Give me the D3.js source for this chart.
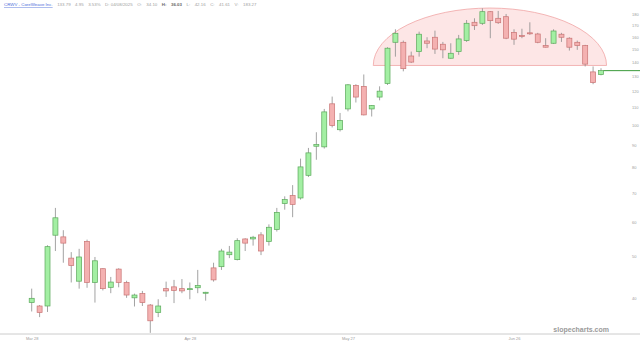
<!DOCTYPE html>
<html>
<head>
<meta charset="utf-8">
<script src="https://cdn.jsdelivr.net/npm/d3@7"></script>
<style>
  body { margin: 0; background: #fff; }
  svg { display: block; font-family: "Liberation Sans", Arial, sans-serif; }
  .axis text { fill: #9c9c9c; }
</style>
</head>
<body>
<div id="chart"></div>
<script>
// trading days shown on the chart
const dates = [
  "Mar 28","Mar 31","Apr 01","Apr 02","Apr 03","Apr 04","Apr 07","Apr 08","Apr 09","Apr 10",
  "Apr 11","Apr 14","Apr 15","Apr 16","Apr 17","Apr 21","Apr 22","Apr 23","Apr 24","Apr 25",
  "Apr 28","Apr 29","Apr 30","May 01","May 02","May 05","May 06","May 07","May 08","May 09",
  "May 12","May 13","May 14","May 15","May 16","May 19","May 20","May 21","May 22","May 23",
  "May 27","May 28","May 29","May 30","Jun 02","Jun 03","Jun 04","Jun 05","Jun 06","Jun 09",
  "Jun 10","Jun 11","Jun 12","Jun 13","Jun 16","Jun 17","Jun 18","Jun 20","Jun 23","Jun 24",
  "Jun 25","Jun 26","Jun 27","Jun 30","Jul 01","Jul 02","Jul 03","Jul 07","Jul 08","Jul 09",
  "Jul 10","Jul 11","Jul 14"
];
const open = [
  39.1,38.4,38.4,55.9,55.4,49.5,43.8,54.1,43.5,46.8,
  42.4,46.7,43.5,40.1,41.0,38.6,37.1,42.1,42.5,42.1,
  42.0,42.3,41.1,47.0,47.3,50.4,49.1,54.8,54.8,56.0,
  54.1,57.6,66.1,69.0,68.1,76.8,89.6,89.3,112.2,97.8,
  109.2,123.7,123.1,109.2,116.3,125.0,155.5,155.5,144.6,148.0,
  156.6,159.7,153.9,142.9,148.0,156.9,172.9,172.0,182.9,176.6,
  178.1,163.9,161.2,163.5,162.5,152.8,154.7,162.3,158.9,155.5,
  152.8,132.9,131.0
];
const high = [
  42.1,38.6,53.0,64.6,57.4,51.1,52.0,54.6,49.8,46.9,
  44.8,46.9,43.9,41.0,41.6,38.8,39.8,43.7,44.1,44.3,
  43.5,46.5,41.4,48.3,52.0,52.8,55.0,55.0,55.7,56.8,
  59.2,64.6,68.7,72.9,83.9,88.8,96.5,109.2,116.6,106.9,
  124.6,124.5,131.1,111.5,123.1,151.5,166.6,156.9,148.0,164.5,
  159.7,165.4,155.8,154.7,161.7,175.0,176.6,186.2,183.5,183.6,
  180.7,166.6,167.1,172.9,163.5,158.9,166.6,163.5,159.7,156.9,
  153.4,136.8,135.5
];
const low = [
  37.3,36.2,37.2,51.4,48.3,43.5,42.1,42.3,39.1,41.7,
  41.1,42.4,40.1,38.3,38.4,33.3,36.2,40.3,39.0,41.1,
  39.8,41.1,39.5,43.7,46.5,49.5,48.9,51.4,52.9,50.3,
  52.9,57.0,64.0,61.5,67.5,76.1,83.4,88.5,99.0,96.9,
  107.8,113.0,105.5,104.9,114.3,124.0,144.1,133.3,139.3,144.1,
  150.7,146.2,142.9,142.5,145.5,155.8,166.0,170.5,158.9,171.4,
  158.1,153.4,158.9,161.7,154.7,151.3,154.2,155.8,148.8,149.4,
  136.8,124.5,130.5
];
const close = [
  40.0,37.1,52.6,61.3,53.6,47.6,49.8,43.5,48.8,42.1,
  43.6,43.5,40.7,40.7,39.1,35.5,38.4,41.6,41.7,41.6,
  42.1,42.8,41.3,44.1,51.4,51.1,54.3,53.6,55.3,51.4,
  58.3,63.1,67.5,65.8,80.3,86.5,90.4,107.5,100.0,102.7,
  124.1,116.3,105.8,111.2,120.0,150.7,163.1,135.2,140.0,162.3,
  154.7,150.0,149.4,146.7,158.3,172.0,169.8,182.9,174.4,172.5,
  158.9,158.1,160.9,163.0,155.5,151.5,165.1,159.7,151.5,152.8,
  138.5,125.6,133.79
];

const yTicks = [40, 50, 60, 70, 80, 90, 100, 110, 120, 130, 140, 150, 160, 170, 180];
const xTickIndex = [0, 20, 40, 61];

// rounded-top pattern drawn over the June top (index range, base and top price)
const domeStart = 43.2, domeEnd = 72.7, domeBase = 137.5, domeTop = 186.5;

const headerLink = "CRWV - CoreWeave Inc.";
const headerRest = [
  ["133.79", false], ["4.95", false], ["3.53%", false], ["D: 04/08/2025", false],
  ["O:", false], ["34.10", false], ["H:", true], ["36.03", true], ["L:", false], ["42.16", false],
  ["C:", false], ["41.61", false], ["V:", false], ["183.27", false]
];

const width = 640, height = 345;
const candles = dates.map((d, i) => ({ i, date: d, o: open[i], h: high[i], l: low[i], c: close[i] }));

const svg = d3.select("#chart").append("svg")
  .attr("width", width)
  .attr("height", height);

const x = d3.scaleLinear()
  .domain([0, dates.length - 1])
  .range([31.7, 601]);

const y = d3.scaleLog()
  .domain([40, 180])
  .range([298.3, 14.7]);

// header line
const header = svg.append("text")
  .attr("x", 4)
  .attr("y", 6)
  .attr("font-size", "4.4px");
header.append("tspan")
  .attr("fill", "#4a6ad8")
  .attr("text-decoration", "underline")
  .text(headerLink);
headerRest.forEach(([t, bold]) => {
  header.append("tspan")
    .attr("dx", 4.5)
    .attr("fill", bold ? "#666" : "#a0a0a0")
    .attr("font-weight", bold ? "bold" : "normal")
    .text(t);
});

// dome annotation
const cx = (x(domeStart) + x(domeEnd)) / 2;
const rx = (x(domeEnd) - x(domeStart)) / 2;
const baseY = y(domeBase);
const ry = baseY - y(domeTop);
svg.append("path")
  .attr("d", `M${cx - rx},${baseY} A${rx},${ry} 0 0 1 ${cx + rx},${baseY} Z`)
  .attr("fill", "rgba(245,130,130,0.2)")
  .attr("stroke", "#f0a4a4")
  .attr("stroke-width", 0.8);

// bottom rule
svg.append("line")
  .attr("x1", 0).attr("x2", width)
  .attr("y1", 334).attr("y2", 334)
  .attr("stroke", "#cccccc")
  .attr("stroke-width", 1);

// candles
const bodyW = 5;
const g = svg.append("g").attr("class", "candles");

g.selectAll(".wick")
  .data(candles)
  .join("line")
  .attr("class", "wick")
  .attr("x1", d => x(d.i)).attr("x2", d => x(d.i))
  .attr("y1", d => y(d.h)).attr("y2", d => y(d.l))
  .attr("stroke", "#8c8c8c")
  .attr("stroke-width", 0.8);

g.selectAll(".body")
  .data(candles)
  .join("rect")
  .attr("class", "body")
  .attr("x", d => x(d.i) - bodyW / 2)
  .attr("width", bodyW)
  .attr("y", d => y(Math.max(d.o, d.c)))
  .attr("height", d => Math.max(1, Math.abs(y(d.o) - y(d.c))))
  .attr("fill", d => d.c >= d.o ? "#a3efa3" : "#f4b1b1")
  .attr("stroke", d => d.c >= d.o ? "#5aa85a" : "#c97474")
  .attr("stroke-width", 0.7);

// last price line
const last = candles[candles.length - 1];
svg.append("line")
  .attr("x1", x(last.i) + bodyW / 2).attr("x2", width)
  .attr("y1", y(last.c)).attr("y2", y(last.c))
  .attr("stroke", "#3a9a3a")
  .attr("stroke-width", 1);

// axes
const yAxis = d3.axisRight(y)
  .tickValues(yTicks)
  .tickSize(0)
  .tickPadding(0)
  .tickFormat(d3.format("d"));

svg.append("g")
  .attr("class", "axis y-axis")
  .attr("transform", "translate(632,0)")
  .call(yAxis)
  .call(a => a.select(".domain").remove())
  .call(a => a.selectAll("text").attr("font-size", "4px"));

const xAxis = d3.axisBottom(x)
  .tickValues(xTickIndex)
  .tickSize(0)
  .tickPadding(0)
  .tickFormat(i => dates[i]);

svg.append("g")
  .attr("class", "axis x-axis")
  .attr("transform", "translate(0,337)")
  .call(xAxis)
  .call(a => a.select(".domain").remove())
  .call(a => a.selectAll("text").attr("font-size", "4px"));

// watermark
svg.append("text")
  .attr("x", 609)
  .attr("y", 332)
  .attr("text-anchor", "end")
  .attr("font-size", "7px")
  .attr("font-weight", "bold")
  .attr("fill", "#9a9a9a")
  .text("slopecharts.com");
</script>
</body>
</html>
